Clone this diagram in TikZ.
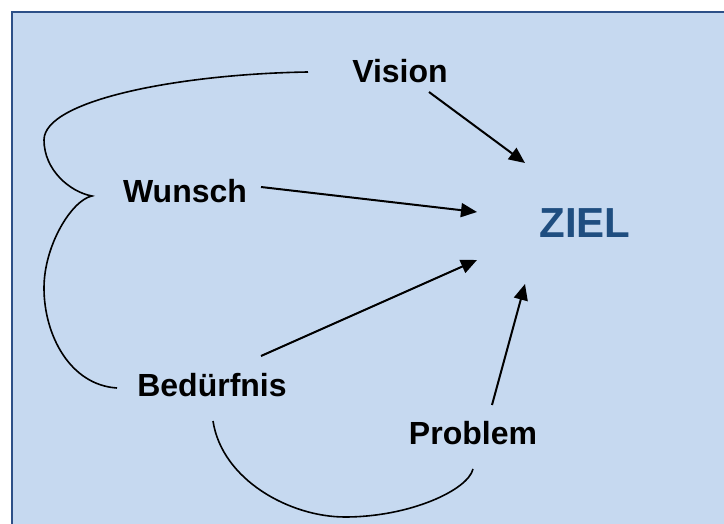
\documentclass[tikz,border=0pt]{standalone}
\usepackage{fontspec}
\setmainfont{Liberation Sans}
\usetikzlibrary{arrows.meta}
\definecolor{panelfill}{HTML}{C6D9F0}
\definecolor{panelframe}{HTML}{2D5088}
\definecolor{goalblue}{HTML}{1F4E80}
\tikzset{
  term/.style={font=\fontsize{32}{38}\selectfont\bfseries, inner sep=0pt, anchor=base},
  goal/.style={font=\fontsize{42}{50}\selectfont\bfseries, text=goalblue, inner sep=0pt, anchor=base},
  influence/.style={line width=2pt, -{Triangle[length=16pt,width=14pt]}},
  bracket/.style={line width=1.6pt}
}
\begin{document}
\begin{tikzpicture}[x=1pt,y=-1pt]
  \useasboundingbox (0,0) rectangle (724,524);
  % panel with frame on the visible top and left edges
  \begin{scope}
    \clip (0,0) rectangle (724,524);
    \filldraw[fill=panelfill, draw=panelframe, line width=2.5pt] (12,12) rectangle (760,560);
  \end{scope}

  % labels
  \node[term] (vision)  at (400,83)  {Vision};
  \node[term] (wunsch)  at (185,203) {Wunsch};
  \node[term] (beduerf) at (212,396) {Bedürfnis};
  \node[term] (problem) at (473,444) {Problem};
  \node[goal] (ziel)    at (585,238) {ZIEL};

  % arrow end points around the goal
  \coordinate (vStart) at (429,92);
  \coordinate (vEnd)   at (525,163);
  \coordinate (wStart) at (261,187);
  \coordinate (wEnd)   at (477,212);
  \coordinate (bStart) at (261,356);
  \coordinate (bEnd)   at (477,260);
  \coordinate (pStart) at (492,405);
  \coordinate (pEnd)   at (525,284);

  \draw[influence] (vStart) -- (vEnd);
  \draw[influence] (wStart) -- (wEnd);
  \draw[influence] (bStart) -- (bEnd);
  \draw[influence] (pStart) -- (pEnd);

  % brace joining Vision, Wunsch and Bedürfnis
  \coordinate (brTop)  at (308,72);
  \coordinate (brTip)  at (92,196);
  \coordinate (brBot)  at (117,388);
  \draw[bracket] (brTop) .. controls (180,74) and (44,100) .. (44,140)
                          .. controls (44,170) and (70,192) .. (brTip)
                          .. controls (72,200) and (44,245) .. (44,288)
                          .. controls (44,335) and (70,385) .. (brBot);

  % arc joining Bedürfnis and Problem
  \coordinate (arcA) at (213,421);
  \coordinate (arcB) at (473,469);
  \draw[bracket] (arcA) .. controls (222,480) and (290,517) .. (345,517)
                        .. controls (410,517) and (468,490) .. (arcB);
\end{tikzpicture}
\end{document}
